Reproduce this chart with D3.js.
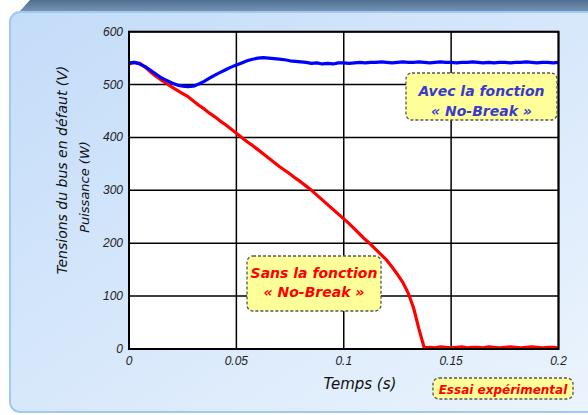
<!DOCTYPE html>
<html>
<head>
<meta charset="utf-8">
<script src="https://cdn.jsdelivr.net/npm/d3@7"></script>
<style>
  html, body { margin: 0; padding: 0; background: #fff; }
  svg { display: block; }
  .tick-lbl { font-family: "Liberation Sans", Arial, sans-serif; font-style: italic; font-size: 12px; fill: #222; }
  .ttl { font-family: "DejaVu Sans", Verdana, sans-serif; font-style: italic; fill: #111; }
  .note { font-family: "DejaVu Sans", Verdana, sans-serif; font-style: italic; font-weight: bold; }
</style>
</head>
<body>
<div id="chart"></div>
<script>
// sampling step of the scope traces (s)
const step = 0.0025;

// DC bus voltage with the No-Break function (V)
const avecValues = [
  541, 542, 539, 534, 527, 520, 513, 508, 503, 499,
  497, 496, 497, 501, 506, 512, 518, 523, 528, 533,
  537, 541, 545, 548, 550, 551, 550, 549, 548, 547,
  545, 544, 543, 542, 540, 541, 539, 540, 539, 541,
  541, 540, 541, 542, 541, 542, 542, 543, 542, 541,
  542, 543, 542, 542, 543, 542, 541, 542, 543, 542,
  542, 541, 542, 542, 543, 542, 541, 542, 541, 542,
  542, 541, 542, 542, 543, 542, 541, 542, 542, 541, 542
];

// DC bus voltage without the No-Break function (V)
const sansValues = [
  539, 542, 540, 533, 524, 516, 509, 502, 495, 489,
  483, 477, 469, 461, 454, 446, 439, 431, 424, 416,
  408, 400, 392, 385, 377, 369, 361, 353, 345, 338,
  331, 323, 316, 308, 300, 291, 282, 273, 264, 255,
  246, 237, 227, 217, 207, 198, 188, 178, 168, 155,
  141, 126, 106, 78, 38, 2, 3, 2, 4, 3,
  2, 3, 4, 2, 3, 3, 2, 4, 3, 2,
  3, 4, 3, 2, 3, 4, 3, 2, 3, 3, 2
];

const xTicks = [0, 0.05, 0.1, 0.15, 0.2];
const xTickLabels = ["0", "0.05", "0.1", "0.15", "0.2"];
const yTicks = [0, 100, 200, 300, 400, 500, 600];

const W = 588, H = 415;
const svg = d3.select("#chart").append("svg").attr("width", W).attr("height", H);

// panel background
const defs = svg.append("defs");
const grad = defs.append("linearGradient").attr("id", "panel")
  .attr("x1", "0%").attr("y1", "0%").attr("x2", "100%").attr("y2", "100%");
grad.append("stop").attr("offset", "0%").attr("stop-color", "#c3dcf9");
grad.append("stop").attr("offset", "100%").attr("stop-color", "#ecf4fd");
const bar = defs.append("linearGradient").attr("id", "bar")
  .attr("x1", "0").attr("y1", "0").attr("x2", "0").attr("y2", "1");
bar.append("stop").attr("offset", "0%").attr("stop-color", "#4f6f92");
bar.append("stop").attr("offset", "100%").attr("stop-color", "#7592b2");

svg.append("path").attr("d", "M20,11 L30,0 L588,0 L588,11 Z").attr("fill", "url(#bar)");
svg.append("rect").attr("x", 10).attr("y", 12).attr("width", 590).attr("height", 400)
  .attr("rx", 10).attr("fill", "url(#panel)").attr("stroke", "#9fc9f3").attr("stroke-width", 2);

// scales
const x = d3.scaleLinear().domain([0, 0.2]).range([129, 558.5]);
const y = d3.scaleLinear().domain([0, 600]).range([349, 31.7]);

svg.append("rect").attr("x", x(0)).attr("y", y(600))
  .attr("width", x(0.2) - x(0)).attr("height", y(0) - y(600)).attr("fill", "#fff");

// grid
svg.append("g").selectAll("line").data(xTicks).join("line")
  .attr("x1", d => x(d)).attr("x2", d => x(d)).attr("y1", y(0)).attr("y2", y(600))
  .attr("stroke", "#000").attr("stroke-width", 1.5);
svg.append("g").selectAll("line").data(yTicks).join("line")
  .attr("x1", x(0)).attr("x2", x(0.2)).attr("y1", d => y(d)).attr("y2", d => y(d))
  .attr("stroke", "#000").attr("stroke-width", 1.5);

// curves
const line = d3.line().x((d, i) => x(i * step)).y(d => y(d));
svg.append("path").datum(sansValues).attr("d", line)
  .attr("fill", "none").attr("stroke", "#ff0000").attr("stroke-width", 3.2).attr("stroke-linejoin", "round");
svg.append("path").datum(avecValues).attr("d", line)
  .attr("fill", "none").attr("stroke", "#0000ff").attr("stroke-width", 3.2).attr("stroke-linejoin", "round");

svg.append("rect").attr("x", x(0)).attr("y", y(600))
  .attr("width", x(0.2) - x(0)).attr("height", y(0) - y(600))
  .attr("fill", "none").attr("stroke", "#000").attr("stroke-width", 2);

// tick labels
svg.append("g").selectAll("text").data(yTicks).join("text")
  .attr("class", "tick-lbl").attr("x", x(0) - 6).attr("y", d => y(d) + 4)
  .attr("text-anchor", "end").text(d => d);
svg.append("g").selectAll("text").data(xTicks).join("text")
  .attr("class", "tick-lbl").attr("x", d => x(d)).attr("y", y(0) + 16)
  .attr("text-anchor", "middle").text((d, i) => xTickLabels[i]);

// axis titles
svg.append("text").attr("class", "ttl").attr("font-size", 14)
  .attr("transform", "translate(67,170) rotate(-90)").attr("text-anchor", "middle")
  .text("Tensions du bus en défaut (V)");
svg.append("text").attr("class", "ttl").attr("font-size", 13)
  .attr("transform", "translate(89,187) rotate(-90)").attr("text-anchor", "middle")
  .text("Puissance (W)");
svg.append("text").attr("class", "ttl").attr("font-size", 15)
  .attr("x", 360).attr("y", 389).attr("text-anchor", "middle").text("Temps (s)");

// annotation boxes
function note(bx, by, bw, bh, lines, color, size, baseY, dy) {
  svg.append("rect").attr("x", bx).attr("y", by).attr("width", bw).attr("height", bh)
    .attr("rx", 6).attr("fill", "#ffff99").attr("stroke", "#555")
    .attr("stroke-width", 1.3).attr("stroke-dasharray", "3,2");
  lines.forEach((t, i) => {
    svg.append("text").attr("class", "note").attr("font-size", size).attr("fill", color)
      .attr("x", bx + bw / 2).attr("y", baseY + i * dy).attr("text-anchor", "middle").text(t);
  });
}
note(406, 73, 151, 47, ["Avec la fonction", "« No-Break »"], "#3a3acc", 14, 96, 19.5);
note(247, 256, 134, 55, ["Sans la fonction", "« No-Break »"], "#ff0000", 14, 278, 19);
note(433, 378, 140, 21, ["Essai expérimental"], "#ff0000", 12, 394, 0);
</script>
</body>
</html>
